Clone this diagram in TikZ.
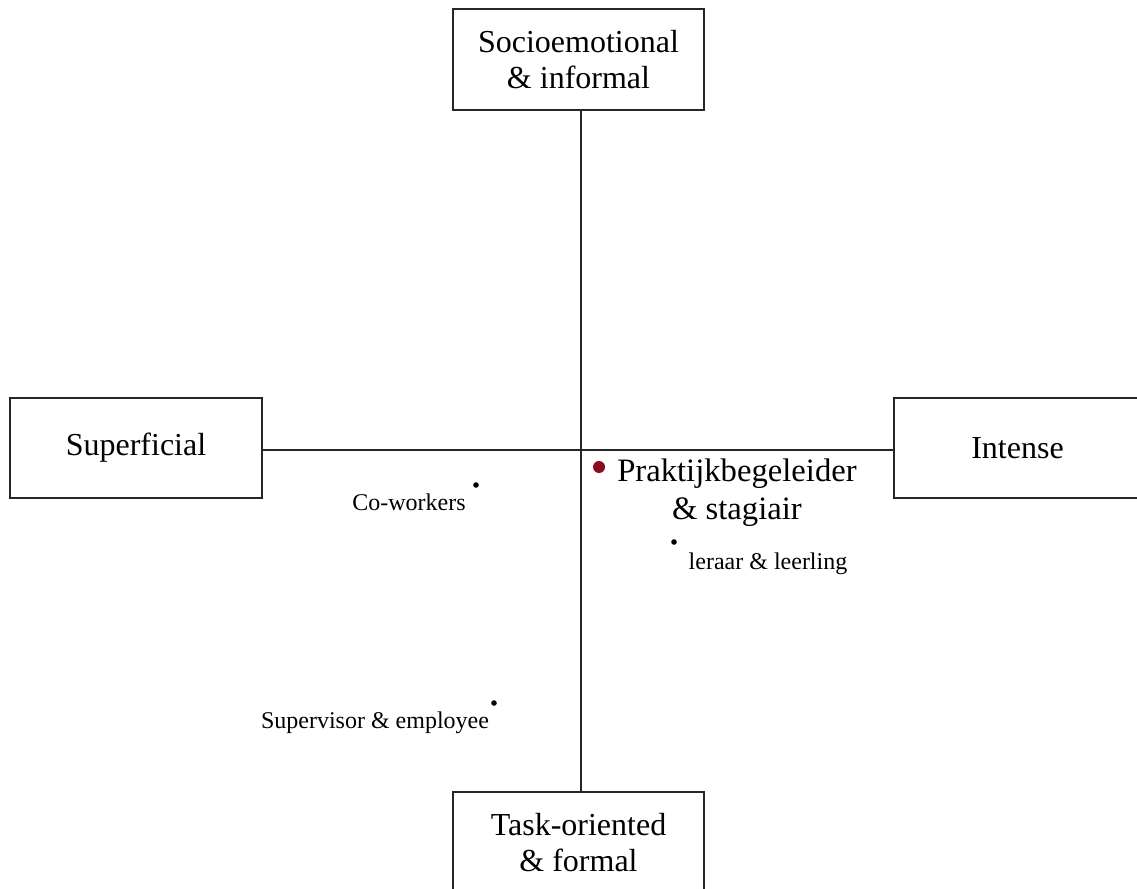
\documentclass[tikz,border=0pt]{standalone}
\usepackage{fontspec}
\setmainfont{Liberation Serif}
\definecolor{dotred}{RGB}{139,12,30}
\begin{document}
\begin{tikzpicture}[x=0.75pt,y=-0.75pt,
  box/.style={draw=black!85,line width=1.4pt,fill=white,inner sep=0pt,align=center,
    font=\fontsize{24}{26.5}\selectfont},
  axis/.style={draw=black!85,line width=1.4pt},
  big/.style={align=center,inner sep=0pt,font=\fontsize{24.5}{28.5}\selectfont},
  small/.style={inner sep=0pt,font=\fontsize{18}{20}\selectfont},
  pt/.style={circle,fill=black,inner sep=0pt,minimum size=4.2pt}]
\useasboundingbox (0,0) rectangle (1137,888);
\clip (0,0) rectangle (1137,888);
\fill[white] (0,0) rectangle (1137,888);
\coordinate (c) at (581,450);
\node[box,minimum width=188.25pt,minimum height=75.75pt] (top) at (578.5,59.5) {Socioemotional\\\& informal};
\node[box,minimum width=189pt,minimum height=75pt] (left) at (136,448) {Superficial};
\node[box,minimum width=185.25pt,minimum height=75pt] (right) at (1017.5,448) {Intense};
\node[box,minimum width=188.25pt,minimum height=75.75pt] (bottom) at (578.5,842.5) {Task-oriented\\\& formal};
\draw[axis] (top.south -| c) -- (bottom.north -| c);
\draw[axis] (left.east |- c) -- (right.west |- c);
\node[pt] (d1) at (476,485) {};
\node[small] (cow) at (409,502) {Co-workers};
\node[circle,fill=dotred,inner sep=0pt,minimum size=9pt] (d2) at (599,467) {};
\node[big] (prak) at (737,493) {Praktijkbegeleider\\\& stagiair};
\node[pt] (d3) at (674,542) {};
\node[small] (ler) at (768,564) {leraar \& leerling};
\node[pt] (d4) at (494,703) {};
\node[small] (sup) at (375,723) {Supervisor \& employee};
\end{tikzpicture}
\end{document}
